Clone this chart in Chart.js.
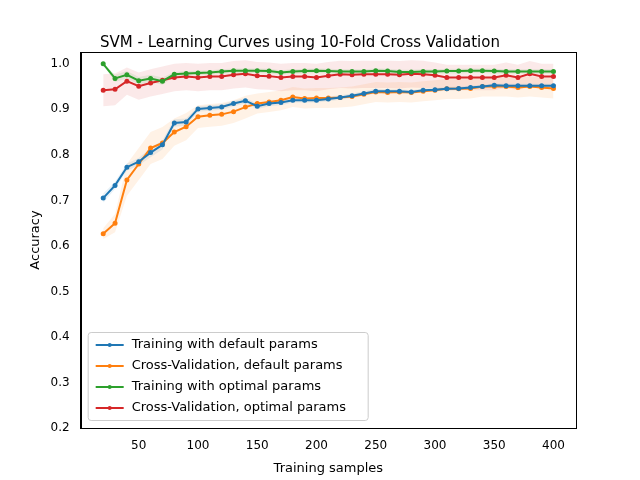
<!DOCTYPE html>
<html><head><script src="https://cdn.jsdelivr.net/npm/chart.js"></script>
<style>body{margin:0;background:#fff}#w{width:640px;height:480px}</style></head>
<body><div id="w"><canvas id="c"></canvas></div>
<script>
const samples=[20,30,40,50,60,70,80,90,100,110,120,130,140,150,160,170,180,190,200,210,220,230,240,250,260,270,280,290,300,310,320,330,340,350,360,370,380,390,400];
const trainDefault=[.705,.733,.773,.785,.805,.822,.870,.872,.901,.903,.905,.913,.919,.907,.913,.915,.92,.92,.92,.923,.926,.93,.935,.94,.94,.94,.938,.942,.943,.945,.946,.948,.95,.953,.952,.952,.952,.952,.952];
const cvDefault=[.627,.65,.745,.78,.815,.826,.85,.862,.884,.887,.889,.895,.905,.913,.916,.92,.927,.924,.925,.925,.926,.928,.933,.938,.937,.938,.937,.94,.942,.945,.945,.946,.95,.95,.95,.948,.95,.948,.946];
const trainOptimal=[1.0,.968,.976,.963,.968,.962,.977,.979,.98,.981,.983,.985,.985,.985,.984,.981,.983,.984,.985,.984,.983,.983,.983,.985,.984,.982,.982,.983,.983,.984,.984,.985,.985,.984,.983,.983,.983,.983,.983];
const cvOptimal=[.942,.944,.962,.951,.958,.964,.970,.972,.970,.972,.972,.976,.978,.974,.973,.970,.972,.972,.970,.974,.977,.976,.977,.977,.977,.976,.978,.977,.975,.970,.970,.970,.970,.970,.975,.970,.978,.972,.972];
const stdTrainDefault=[.01,.008,.008,.008,.01,.01,.008,.008,.006,.006,.006,.006,.006,.006,.006,.006,.005,.005,.005,.005,.005,.005,.005,.005,.004,.004,.004,.004,.004,.004,.004,.004,.004,.004,.004,.004,.004,.004,.004];
const stdCvDefault=[.012,.02,.035,.035,.035,.035,.03,.03,.025,.025,.025,.025,.025,.022,.022,.022,.022,.022,.022,.022,.022,.022,.022,.022,.022,.022,.022,.022,.022,.022,.022,.022,.022,.022,.022,.022,.022,.022,.022];
const stdTrainOptimal=[.002,.008,.008,.008,.008,.008,.005,.005,.005,.005,.005,.005,.005,.005,.005,.005,.005,.005,.005,.005,.005,.005,.005,.005,.005,.005,.005,.005,.005,.005,.005,.005,.005,.005,.005,.005,.005,.005,.005];
const stdCvOptimal=[.035,.035,.03,.03,.03,.03,.03,.03,.03,.03,.03,.03,.03,.03,.03,.03,.03,.03,.03,.03,.03,.03,.03,.03,.03,.03,.03,.03,.028,.028,.028,.028,.028,.028,.028,.028,.028,.028,.028];
const names=['Training with default params','Cross-Validation, default params','Training with optimal params','Cross-Validation, optimal params'];
const colors=['#1f77b4','#ff7f0e','#2ca02c','#d62728'];
const fills=['rgba(31,119,180,0.1)','rgba(255,127,14,0.1)','rgba(44,160,44,0.1)','rgba(214,39,40,0.1)'];
const series=[trainDefault,cvDefault,trainOptimal,cvOptimal];
const stds=[stdTrainDefault,stdCvDefault,stdTrainOptimal,stdCvOptimal];
const ds=[];
series.forEach((s,i)=>{
  ds.push({label:'_lo'+i,data:samples.map((x,j)=>({x,y:s[j]-stds[i][j]})),borderWidth:0,pointRadius:0,fill:false,order:10});
  ds.push({label:'_hi'+i,data:samples.map((x,j)=>({x,y:s[j]+stds[i][j]})),borderWidth:0,pointRadius:0,backgroundColor:fills[i],fill:'-1',order:10});
});
series.forEach((s,i)=>{
  ds.push({label:names[i],data:samples.map((x,j)=>({x,y:s[j]})),borderColor:colors[i],backgroundColor:colors[i],borderWidth:2,pointRadius:1.5,pointHoverRadius:0,fill:false,order:i});
});
const legendPlugin={id:'lg',afterDraw(ch){
  const c=ch.ctx,a=ch.chartArea;c.save();
  c.strokeStyle='#000';c.lineWidth=1;c.strokeRect(Math.round(a.left)+.5,Math.round(a.top)+.5,Math.round(a.right-a.left),Math.round(a.bottom-a.top));
  const x0=a.left+7,y0=332,w=280,h=88;
  c.fillStyle='rgba(255,255,255,0.8)';c.strokeStyle='#ccc';
  c.beginPath();c.roundRect(x0+.5,y0+.5,w,h,3);c.fill();c.stroke();
  c.font='13px "DejaVu Sans"';c.textBaseline='middle';
  names.forEach((n,i)=>{const y=y0+13+i*21;c.strokeStyle=colors[i];c.lineWidth=2;c.beginPath();c.moveTo(x0+8,y);c.lineTo(x0+36,y);c.stroke();
    c.fillStyle=colors[i];c.beginPath();c.arc(x0+22,y,2,0,7);c.fill();c.fillStyle='#000';c.fillText(n,x0+44,y);});
  c.restore();}};
new Chart(document.getElementById('c'),{type:'line',data:{datasets:ds},plugins:[legendPlugin],
options:{responsive:true,maintainAspectRatio:false,animation:false,
layout:{padding:{left:24,right:64,top:4,bottom:0}},
plugins:{legend:{display:false},tooltip:{enabled:false},title:{display:true,text:'SVM - Learning Curves using 10-Fold Cross Validation',color:'#000',font:{family:'DejaVu Sans',size:15,weight:'normal'},padding:{top:30,bottom:0}}},
scales:{x:{type:'linear',min:1,max:419,grid:{display:false},border:{color:'#000'},
 afterBuildTicks:ax=>{ax.ticks=[50,100,150,200,250,300,350,400].map(v=>({value:v}))},
 ticks:{color:'#000',font:{family:'DejaVu Sans',size:12},maxRotation:0},
 title:{display:true,text:'Training samples',color:'#000',font:{family:'DejaVu Sans',size:13}}},
 y:{min:0.2,max:1.026,grid:{display:false},border:{color:'#000'},
 afterBuildTicks:ax=>{ax.ticks=[.2,.3,.4,.5,.6,.7,.8,.9,1].map(v=>({value:v}))},
 ticks:{color:'#000',font:{family:'DejaVu Sans',size:12},callback:v=>v.toFixed(1)},
 title:{display:true,text:'Accuracy',color:'#000',font:{family:'DejaVu Sans',size:13}}}}}});
</script></body></html>
